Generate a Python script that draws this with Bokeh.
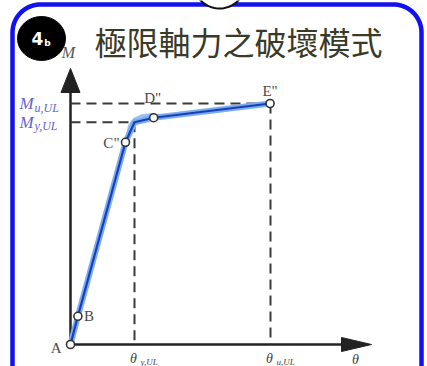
import numpy as np
from bokeh.plotting import figure
from bokeh.models import Range1d, Label, ColumnDataSource
from bokeh.embed import file_html
from bokeh.resources import INLINE

W, H = 427, 366

# Backbone curve of the plastic hinge, normalised: rotation θ/θu,UL and moment M/Mu,UL
point_names = ["A", "B", 'C"', "", 'D"', 'E"']
theta = [0.0, 0.037, 0.275, 0.32, 0.416, 0.998]
moment = [0.0, 0.117, 0.839, 0.922, 0.941, 1.0]
marked = [0, 1, 2, 4, 5]

# Yield / ultimate reference levels
theta_y, theta_u = 0.32, 1.0
m_y, m_u = 0.922, 1.0

# Shaded transition zone around the yield kink
band_theta = [0.275, 0.29, 0.315, 0.36, 0.42, 0.42, 0.32]
band_m = [0.838, 0.909, 0.938, 0.954, 0.959, 0.938, 0.917]

# Frame mapping: origin pixel and pixels per unit
X0, Y0 = 70, 344
SX, SY = 200, 241


def px(x):
    return (np.asarray(x, dtype=float) - X0) / SX


def py(y):
    return (Y0 - np.asarray(y, dtype=float)) / SY


p = figure(width=W, height=H,
           x_range=Range1d(-X0 / SX, (W - X0) / SX),
           y_range=Range1d(-(H - Y0) / SY, Y0 / SY),
           toolbar_location=None, output_backend="svg",
           x_axis_type=None, y_axis_type=None,
           min_border=0, outline_line_color=None,
           background_fill_color="white", border_fill_color="white")

# ---- rounded panel border -------------------------------------------------
L, T, RT, R = 12, 4, 421, 28
a1 = np.linspace(np.pi, 1.5 * np.pi, 24)
a2 = np.linspace(1.5 * np.pi, 2 * np.pi, 24)
bx = np.concatenate([[L], L + R + R * np.cos(a1), RT - R + R * np.cos(a2), [RT]])
by = np.concatenate([[400], T + R + R * np.sin(a1), T + R + R * np.sin(a2), [400]])
p.line(px(bx), py(by), line_color="#1212ee", line_width=4.5, line_join="round")

# small notch circle breaking the top edge
na = np.linspace(0, 2 * np.pi, 90)
p.patch(px(219 + 26 * np.cos(na)), py(-18 + 26 * np.sin(na)),
        fill_color="white", line_color="#111111", line_width=2)

# ---- badge and title -------------------------------------------------------
p.ellipse(x=[px(41)], y=[py(38)], width=48, height=44,
          width_units="screen", height_units="screen",
          fill_color="black", line_color="black")
p.add_layout(Label(x=px(37), y=py(38), text="4", text_color="white",
                   text_font="DejaVu Sans", text_font_style="bold",
                   text_font_size="17px", text_align="center",
                   text_baseline="middle"))
p.add_layout(Label(x=px(47), y=py(42), text="b", text_color="white",
                   text_font="DejaVu Sans", text_font_style="bold",
                   text_font_size="9px", text_align="center",
                   text_baseline="middle"))
p.add_layout(Label(x=px(94), y=py(40), text="極限軸力之破壞模式",
                   text_color="#3a3a28", text_font="Noto Sans CJK TC",
                   text_font_size="32px", text_align="left",
                   text_baseline="middle"))

# ---- axes with arrow heads ---------------------------------------------------
axis_col = "#222222"
p.line([0, 0], [0, py(90)], line_color=axis_col, line_width=2.5)
p.patch(px([70, 60.5, 79.5]), py([68, 92, 92]), fill_color=axis_col,
        line_color=axis_col)
p.line([0, px(342)], [0, 0], line_color=axis_col, line_width=2.5)
p.patch(px([371, 341, 341]), py([344, 337, 351]), fill_color=axis_col,
        line_color=axis_col)

# ---- reference dashed lines ----------------------------------------------------
dash_col = "#3a3a3a"
p.line([0, theta_u], [m_u, m_u], line_color=dash_col, line_width=2,
       line_dash="10 6")
p.line([0, theta_y], [m_y, m_y], line_color=dash_col, line_width=2,
       line_dash="10 6")
p.line([theta_y, theta_y], [m_y, 0], line_color=dash_col, line_width=2,
       line_dash="10 6")
p.line([theta_u, theta_u], [m_u, 0], line_color=dash_col, line_width=2,
       line_dash="10 6")

# ---- backbone curve --------------------------------------------------------------
p.patch(band_theta, band_m, fill_color="#8cbcf2", line_color="#8cbcf2",
        line_width=1, fill_alpha=0.9)
p.line(theta, moment, line_color="#78aef0", line_width=6, line_join="round")
p.line(theta, moment, line_color="#1c3cb8", line_width=2.2, line_join="round")

src = ColumnDataSource(dict(x=[theta[i] for i in marked],
                            y=[moment[i] for i in marked]))
p.scatter("x", "y", source=src, size=8, fill_color="white",
          line_color="#333333", line_width=1.6)

# point labels
lab_style = dict(text_color="#4a4a4a", text_font="Liberation Serif",
                 text_font_size="15px")
p.add_layout(Label(x=theta[0], y=moment[0], x_offset=-9, y_offset=-3,
                   text=point_names[0], text_align="right",
                   text_baseline="middle", **lab_style))
p.add_layout(Label(x=theta[1], y=moment[1], x_offset=6, text=point_names[1],
                   text_align="left", text_baseline="middle", **lab_style))
p.add_layout(Label(x=theta[2], y=moment[2], x_offset=-6, y_offset=-1,
                   text=point_names[2], text_align="right",
                   text_baseline="middle", **lab_style))
p.add_layout(Label(x=theta[4], y=moment[4], y_offset=20, x_offset=-1,
                   text=point_names[4], text_align="center",
                   text_baseline="middle", **lab_style))
p.add_layout(Label(x=theta[5], y=moment[5], y_offset=13,
                   text=point_names[5], text_align="center",
                   text_baseline="middle", **lab_style))

# ---- axis symbols ------------------------------------------------------------------
sym = dict(text_font="Liberation Serif", text_font_style="italic")
p.add_layout(Label(x=0, y=py(52), x_offset=-2, text="M", text_color="#555555",
                   text_font_size="16px", text_align="center",
                   text_baseline="middle", **sym))

lvl_col = "#6464cc"
for lvl, sub in [(m_u, "u,UL"), (m_y, "y,UL")]:
    p.add_layout(Label(x=px(19), y=lvl, text="M", text_color=lvl_col,
                       text_font_size="17px", text_align="left",
                       text_baseline="middle", **sym))
    p.add_layout(Label(x=px(34), y=lvl, y_offset=-4, text=sub,
                       text_color=lvl_col, text_font_size="12px",
                       text_align="left", text_baseline="middle", **sym))

th_col = "#444444"
for xv, sub in [(theta_y, "y,UL"), (theta_u, "u,UL")]:
    p.add_layout(Label(x=xv, y=0, x_offset=-1, y_offset=-6, text="θ",
                       text_color=th_col, text_font_size="14px",
                       text_align="center", text_baseline="top", **sym))
    p.add_layout(Label(x=xv, y=0, x_offset=6, y_offset=-12, text=sub,
                       text_color=th_col, text_font_size="9px",
                       text_align="left", text_baseline="top", **sym))
p.add_layout(Label(x=px(355), y=0, y_offset=-7, text="θ", text_color=th_col,
                   text_font_size="14px", text_align="center",
                   text_baseline="top", **sym))

open("out.html", "w").write(file_html(p, INLINE))
